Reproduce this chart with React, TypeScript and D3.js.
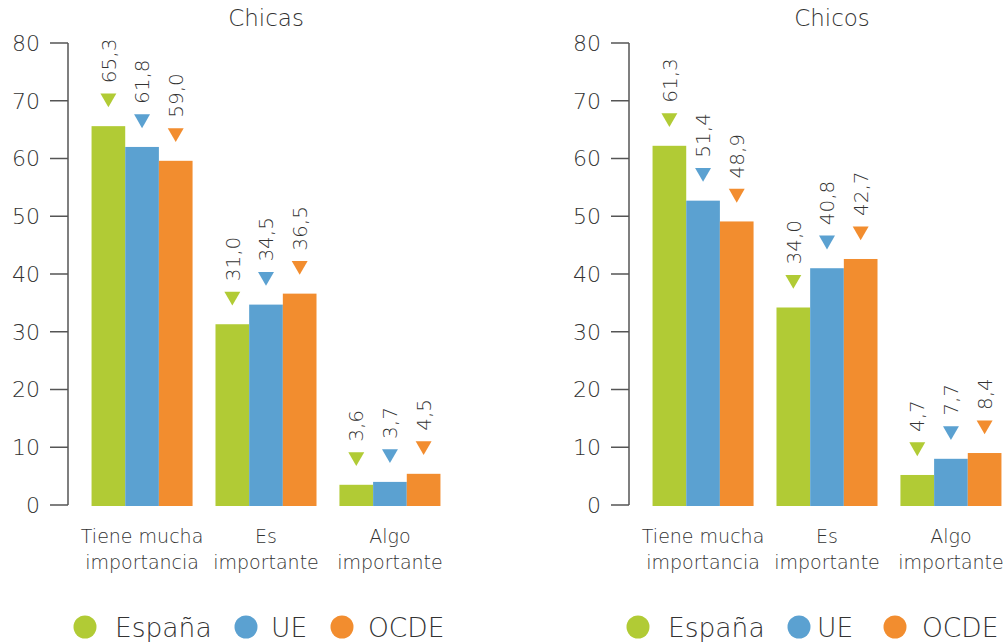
import React from "react";
import * as d3 from "d3";

const categories = [
  ["Tiene mucha", "importancia"],
  ["Es", "importante"],
  ["Algo", "importante"],
];
const seriesNames = ["España", "UE", "OCDE"];
const seriesColors = ["#b1cb35", "#5ba1d1", "#f28d2f"];
const yTicks = [0, 10, 20, 30, 40, 50, 60, 70, 80];

// bar heights as drawn in the picture, per series, per category
const chicasEspana = [65.6, 31.3, 3.5];
const chicasUE = [62.0, 34.7, 4.0];
const chicasOCDE = [59.6, 36.6, 5.4];
const chicosEspana = [62.2, 34.2, 5.2];
const chicosUE = [52.7, 41.0, 8.0];
const chicosOCDE = [49.1, 42.6, 9.0];

// printed value labels
const chicasEspanaLabels = ["65,3", "31,0", "3,6"];
const chicasUELabels = ["61,8", "34,5", "3,7"];
const chicasOCDELabels = ["59,0", "36,5", "4,5"];
const chicosEspanaLabels = ["61,3", "34,0", "4,7"];
const chicosUELabels = ["51,4", "40,8", "7,7"];
const chicosOCDELabels = ["48,9", "42,7", "8,4"];

const FONT = "'DejaVu Sans', sans-serif";
const W = 200;
const TEXT = "#333";

type PanelProps = {
  title: string;
  axisX: number;
  titleX: number;
  values: number[][];
  labels: string[][];
  legendX: number[];
  legendGap: number[];
};

function Panel({ title, axisX, titleX, values, labels, legendX, legendGap }: PanelProps) {
  const y = d3.scaleLinear().domain([0, 80]).range([505, 43]);
  const x0 = d3
    .scaleBand<string>()
    .domain(categories.map((c) => c.join(" ")))
    .range([axisX, axisX + 396])
    .paddingInner(0.185)
    .paddingOuter(0.19);
  const x1 = d3
    .scaleBand<string>()
    .domain(seriesNames)
    .range([0, x0.bandwidth()])
    .padding(0);
  const tri = d3.symbol().type(d3.symbolTriangle).size(110);

  return (
    <g>
      <text x={titleX} y={26} textAnchor="middle" fontSize={23} fill={TEXT} fontFamily={FONT} fontWeight={W}>
        {title}
      </text>
      <line x1={axisX} x2={axisX} y1={y(80)} y2={y(0)} stroke="#555" strokeWidth={1.5} />
      {yTicks.map((t) => (
        <g key={t}>
          <line x1={axisX - 18} x2={axisX} y1={y(t)} y2={y(t)} stroke="#555" strokeWidth={1.5} />
          <text
            x={axisX - 28}
            y={y(t)}
            dy="0.36em"
            textAnchor="end"
            fontSize={22}
            fill={TEXT}
            fontFamily={FONT}
            fontWeight={W}
          >
            {t}
          </text>
        </g>
      ))}
      {categories.map((cat, ci) => {
        const gx = x0(cat.join(" "))!;
        return (
          <g key={ci}>
            {seriesNames.map((s, si) => {
              const v = values[si][ci];
              const bx = gx + x1(s)!;
              const bw = x1.bandwidth();
              const top = y(v);
              const cx = bx + bw / 2;
              const triY = top - 28;
              return (
                <g key={s}>
                  <rect x={bx} y={top} width={bw} height={y(0) - top + 1} fill={seriesColors[si]} />
                  <path
                    d={tri()!}
                    transform={`translate(${cx},${triY}) rotate(180)`}
                    fill={seriesColors[si]}
                  />
                  <text
                    transform={`translate(${cx},${top - 43}) rotate(-90)`}
                    dy="0.36em"
                    fontSize={20}
                    fill={TEXT}
                    fontFamily={FONT}
                    fontWeight={W}
                  >
                    {labels[si][ci]}
                  </text>
                </g>
              );
            })}
            <text
              x={gx + x0.bandwidth() / 2}
              textAnchor="middle"
              fontSize={19}
              fill={TEXT}
              fontFamily={FONT}
              fontWeight={W}
            >
              <tspan x={gx + x0.bandwidth() / 2} y={543}>
                {cat[0]}
              </tspan>
              <tspan x={gx + x0.bandwidth() / 2} y={569}>
                {cat[1]}
              </tspan>
            </text>
          </g>
        );
      })}
      {seriesNames.map((s, si) => (
        <g key={s}>
          <circle cx={legendX[si]} cy={627} r={11.5} fill={seriesColors[si]} />
          <text
            x={legendX[si] + legendGap[si]}
            y={637}
            fontSize={26.5}
            fill={TEXT}
            fontFamily={FONT}
            fontWeight={W}
          >
            {s}
          </text>
        </g>
      ))}
    </g>
  );
}

export default function App() {
  return (
    <svg
      width={1005}
      height={642}
      style={{ position: "absolute", left: 0, top: 0, background: "#fff" }}
    >
      <Panel
        title="Chicas"
        axisX={68}
        titleX={266}
        values={[chicasEspana, chicasUE, chicasOCDE]}
        labels={[chicasEspanaLabels, chicasUELabels, chicasOCDELabels]}
        legendX={[85, 246, 342]}
        legendGap={[30, 25, 26]}
      />
      <Panel
        title="Chicos"
        axisX={629}
        titleX={832}
        values={[chicosEspana, chicosUE, chicosOCDE]}
        labels={[chicosEspanaLabels, chicosUELabels, chicosOCDELabels]}
        legendX={[638, 799, 895]}
        legendGap={[30, 18, 27]}
      />
    </svg>
  );
}
